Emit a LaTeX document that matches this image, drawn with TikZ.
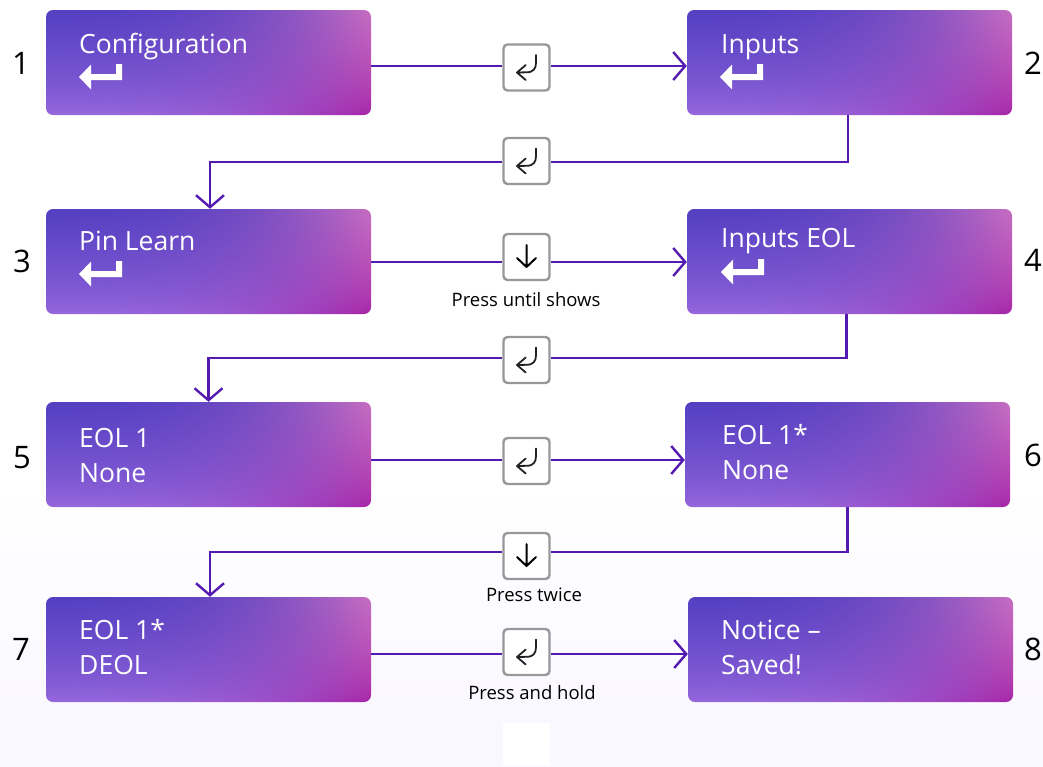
\documentclass[tikz,border=0pt]{standalone}
\usepackage{fontspec}
\setmainfont{Open Sans}
\usetikzlibrary{arrows.meta}

\definecolor{flowline}{RGB}{84,26,176}
\definecolor{keyedge}{RGB}{152,152,156}
\definecolor{keyglyph}{RGB}{34,34,38}
\definecolor{pagetint}{RGB}{249,247,255}

% colour of the boxes: corners mixed over u,v with u pushed to the left
\newcommand{\boxchannel}[4]{2 copy mul #4 mul 2 index #2 mul add 1 index #3 mul add #1 add 3 1 roll }
\pgfdeclarefunctionalshading{boxgrad}{\pgfpoint{-50bp}{-50bp}}{\pgfpoint{50bp}{50bp}}{}{
  25 add 50 div exch 25 add 50 div dup 2.6 exp exch pop exch 0.7 exp
  \boxchannel{0.60}{0.05}{-0.27}{0.40}
  \boxchannel{0.41}{-0.28}{-0.16}{0.46}
  \boxchannel{0.87}{-0.22}{-0.11}{0.22}
  pop pop
}

\tikzset{
  screenbox/.style={rectangle, rounded corners=7pt, minimum width=325pt, minimum height=105pt, inner sep=0pt, shading=boxgrad},
  keybox/.style={rectangle, rounded corners=4pt, draw=keyedge, line width=2.4pt, fill=white, minimum width=46pt, minimum height=46pt, inner sep=0pt},
  screentext/.style={anchor=base west, inner sep=0pt, text=white, font=\fontsize{26.5}{27}\selectfont},
  keylabel/.style={inner sep=0pt, font=\fontsize{18.5}{19}\selectfont},
  stepnum/.style={inner sep=0pt, font=\fontsize{31}{31}\selectfont},
  flow/.style={draw=flowline, line width=2.4pt},
  flowtip/.style={flow, -{Straight Barb[length=12pt, width=28pt, line width=2.4pt]}},
}

\begin{document}
\begin{tikzpicture}[x=1pt, y=-1pt]
\useasboundingbox (0,0) rectangle (1043,766);

% page tint
\shade[top color=white, bottom color=pagetint, draw=none] (0,480) rectangle (1043,766);
\fill[white] (503,723) rectangle (550,766);

% boxes
\node[screenbox] (config) at (208.5,62.5) {};
\node[screenbox] (inputs) at (849.5,62.5) {};
\node[screenbox] (pinlearn) at (208.5,261.5) {};
\node[screenbox] (inputseol) at (849.5,261.5) {};
\node[screenbox] (eolnone) at (208.5,454.5) {};
\node[screenbox] (eolstar) at (847.5,454.5) {};
\node[screenbox] (eoldeol) at (208.5,649.5) {};
\node[screenbox] (notice) at (850.5,649.5) {};

% box texts
\node[screentext] (tconfig) at (79,53) {Configuration};
\node[screentext] (tinputs) at (721,53) {Inputs};
\node[screentext] (tpin) at (79,250) {Pin Learn};
\node[screentext] (tineol) at (721,247) {Inputs EOL};
\node[screentext] (teola) at (79,447) {EOL 1};
\node[screentext] (teolb) at (79,482) {None};
\node[screentext] (teolc) at (722,444) {EOL 1*};
\node[screentext] (teold) at (722,479) {None};
\node[screentext] (teole) at (79,639) {EOL 1*};
\node[screentext] (teolf) at (79,674) {DEOL};
\node[screentext] (tnota) at (721,639) {Notice --};
\node[screentext] (tnotb) at (721,674) {Saved!};

% return signs in the boxes
\foreach \x/\y in {79/77, 720/77, 79/274, 721/272}
  \fill[white, shift={(\x,\y)}] (0,0) -- (12,-12.5) -- (12,-3) -- (37,-3) -- (37,-13) -- (43,-13) -- (43,3) -- (12,3) -- (12,12.5) -- cycle;

% step numbers
\node[stepnum] (numa) at (21,63) {1};
\node[stepnum] (numb) at (1033,63) {2};
\node[stepnum] (numc) at (22,261) {3};
\node[stepnum] (numd) at (1033,260) {4};
\node[stepnum] (nume) at (22,458) {5};
\node[stepnum] (numf) at (1033,455) {6};
\node[stepnum] (numg) at (21,649) {7};
\node[stepnum] (numh) at (1033,649) {8};

% keys
\node[keybox] (keya) at (526.5,67.5) {};
\node[keybox] (keyb) at (526.5,161) {};
\node[keybox] (keyc) at (526.5,257) {};
\node[keybox] (keyd) at (526.5,360) {};
\node[keybox] (keye) at (526.5,461) {};
\node[keybox] (keyf) at (526.5,556) {};
\node[keybox] (keyg) at (526.5,652) {};

% glyphs on the keys
\foreach \k in {keya,keyb,keyd,keye,keyg}
  \draw[keyglyph, line width=1.8pt, line cap=round, line join=round, shift={(\k)}]
    (9.5,-12.5) -- (9.5,-5) .. controls (9.5,1) and (7,4.8) .. (0,4.8) -- (-9.5,5)
    (-0.8,-2.5) -- (-9.5,5) -- (-0.8,12.5);
\foreach \k in {keyc,keyf}
  \draw[black, line width=2pt, line cap=round, line join=round, shift={(\k)}]
    (0,-12) -- (0,10) (-9.5,1) -- (0,10) (9.5,1) -- (0,10);

% labels
\node[keylabel] (lbla) at (526,300) {Press until shows};
\node[keylabel] (lblb) at (534,595) {Press twice};
\node[keylabel] (lblc) at (532,693) {Press and hold};

% connectors
\draw[flow] ([yshift=-3.5pt]config.east) -- ([yshift=1.5pt]keya.west);
\draw[flowtip] ([yshift=1.5pt]keya.east) -- ([yshift=-3.5pt]inputs.west);
\draw[flow] ([xshift=-1.5pt]inputs.south) |- ([yshift=-1pt]keyb.east);
\draw[flowtip] ([yshift=-1pt]keyb.west) -| ([xshift=1.5pt]pinlearn.north);
\draw[flow] ([yshift=-0.5pt]pinlearn.east) -- ([yshift=-5pt]keyc.west);
\draw[flowtip] ([yshift=-5pt]keyc.east) -- ([yshift=-0.5pt]inputseol.west);
\draw[flow] ([xshift=-3pt]inputseol.south) |- ([yshift=2pt]keyd.east);
\draw[flowtip] ([yshift=2pt]keyd.west) -| (eolnone.north);
\draw[flow] ([yshift=-5.5pt]eolnone.east) -- ([yshift=1pt]keye.west);
\draw[flowtip] ([yshift=1pt]keye.east) -- ([yshift=-5.5pt]eolstar.west);
\draw[flow] (eolstar.south) |- ([yshift=4pt]keyf.east);
\draw[flowtip] ([yshift=4pt]keyf.west) -| ([xshift=1.5pt]eoldeol.north);
\draw[flow] ([yshift=-4.5pt]eoldeol.east) -- ([yshift=-2pt]keyg.west);
\draw[flowtip] ([yshift=-2pt]keyg.east) -- ([yshift=-4.5pt]notice.west);

\end{tikzpicture}
\end{document}
